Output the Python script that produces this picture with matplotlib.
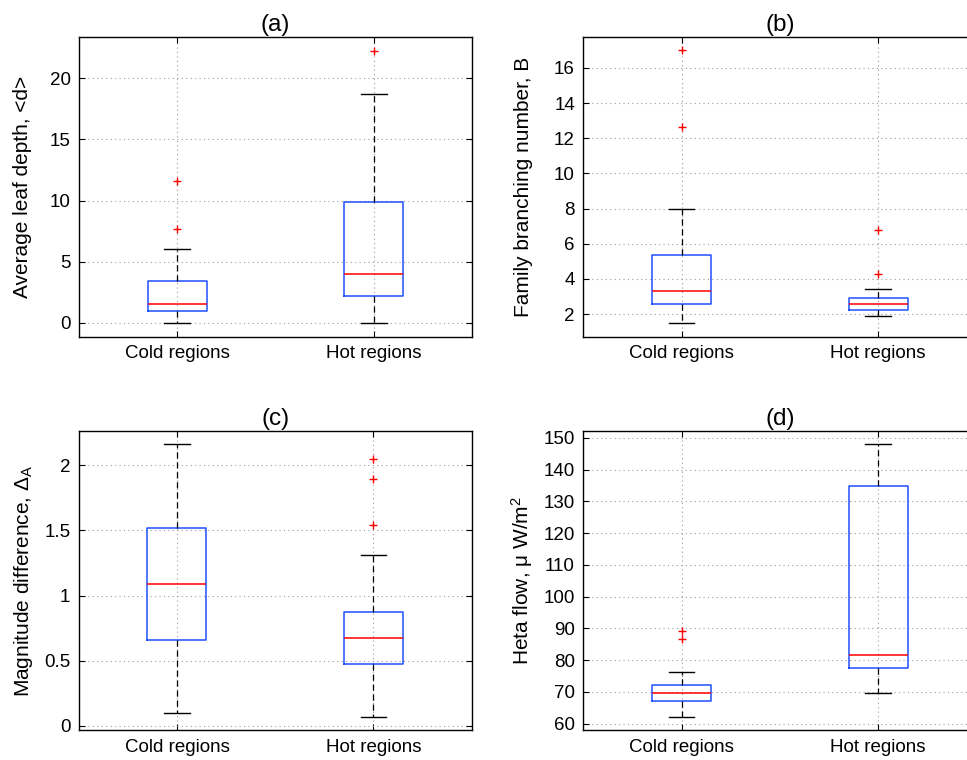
import matplotlib
matplotlib.use('Agg')
import matplotlib.pyplot as plt

plt.rcParams['font.family'] = ['Liberation Sans', 'DejaVu Sans']
plt.rcParams['mathtext.fontset'] = 'custom'
plt.rcParams['mathtext.rm'] = 'Liberation Sans'
plt.rcParams['mathtext.it'] = 'Liberation Sans:italic'

categories = ['Cold regions', 'Hot regions']

# five-number summaries per group: whisker low, q1, median, q3, whisker high
leaf_depth_stats = [[0.0, 1.0, 1.55, 3.4, 6.04], [0.0, 2.17, 3.97, 9.88, 18.69]]
leaf_depth_fliers = [[7.7, 11.6], [22.25]]

branching_stats = [[1.49, 2.57, 3.31, 5.39, 8.0], [1.9, 2.23, 2.57, 2.93, 3.44]]
branching_fliers = [[12.66, 17.0], [4.28, 6.76]]

magnitude_stats = [[0.10, 0.655, 1.09, 1.517, 2.162], [0.069, 0.471, 0.671, 0.875, 1.312]]
magnitude_fliers = [[], [1.54, 1.891, 2.049]]

heat_stats = [[62.1, 67.0, 69.5, 72.0, 76.4], [69.6, 77.35, 81.45, 135.0, 148.1]]
heat_fliers = [[86.8, 89.3], [ ]]

panels = [
    ('(a)', 'Average leaf depth, <d>', leaf_depth_stats, leaf_depth_fliers,
     (-1.12, 23.37), [0, 5, 10, 15, 20], ['0', '5', '10', '15', '20'], -0.145),
    ('(b)', 'Family branching number, B', branching_stats, branching_fliers,
     (0.73, 17.76), [2, 4, 6, 8, 10, 12, 14, 16], None, -0.153),
    ('(c)', r'Magnitude difference, $\mathit{\Delta}_{\mathrm{A}}$', magnitude_stats, magnitude_fliers,
     (-0.033, 2.264), [0, 0.5, 1, 1.5, 2], ['0', '0.5', '1', '1.5', '2'], -0.141),
    ('(d)', r'Heta flow, μ W/m$^{2}$', heat_stats, heat_fliers,
     (57.9, 152.3), list(range(60, 151, 10)), None, -0.157),
]

W, H = 967, 760
positions = [(79, 37), (583.3, 37), (78.7, 430.7), (583.3, 430.7)]
ax_w, ax_h = 393, 299.5

fig = plt.figure(figsize=(W / 100, H / 100), dpi=100)

for (title, ylabel, stats, fliers, ylim, yticks, yticklabels, lab_x), (px, py) in zip(panels, positions):
    ax = fig.add_axes([px / W, 1 - (py + ax_h) / H, ax_w / W, ax_h / H])
    bstats = []
    for name, s, f in zip(categories, stats, fliers):
        bstats.append(dict(label=name, whislo=s[0], q1=s[1], med=s[2], q3=s[3],
                           whishi=s[4], fliers=f))
    ax.bxp(bstats, positions=[1, 2], widths=0.3, capwidths=0.13,
           boxprops=dict(color='#1f4fff', lw=1.1),
           medianprops=dict(color='red', lw=1.1),
           whiskerprops=dict(color='black', lw=0.9, linestyle=(0, (5, 3))),
           capprops=dict(color='black', lw=1.0),
           flierprops=dict(marker='+', markeredgecolor='red', markersize=6, mew=1.0,
                           linestyle='none'))
    ax.set_xlim(0.5, 2.5)
    ax.set_ylim(*ylim)
    ax.set_yticks(yticks)
    if yticklabels is not None:
        ax.set_yticklabels(yticklabels)
    ax.set_xticks([1, 2])
    ax.set_xticklabels(categories)
    ax.tick_params(direction='in', top=True, right=True, labelsize=13.5,
                   length=4, width=0.8, pad=6)
    ax.grid(True, color='#9a9a9a', linestyle=(0, (1, 3)), lw=0.8)
    ax.set_axisbelow(True)
    for sp in ax.spines.values():
        sp.set_linewidth(1.0)
    ax.set_title(title, fontsize=17.5, pad=4)
    ax.set_ylabel(ylabel, fontsize=15, va='center')
    ax.yaxis.set_label_coords(lab_x, 0.5)

fig.savefig('out.png', dpi=100)
